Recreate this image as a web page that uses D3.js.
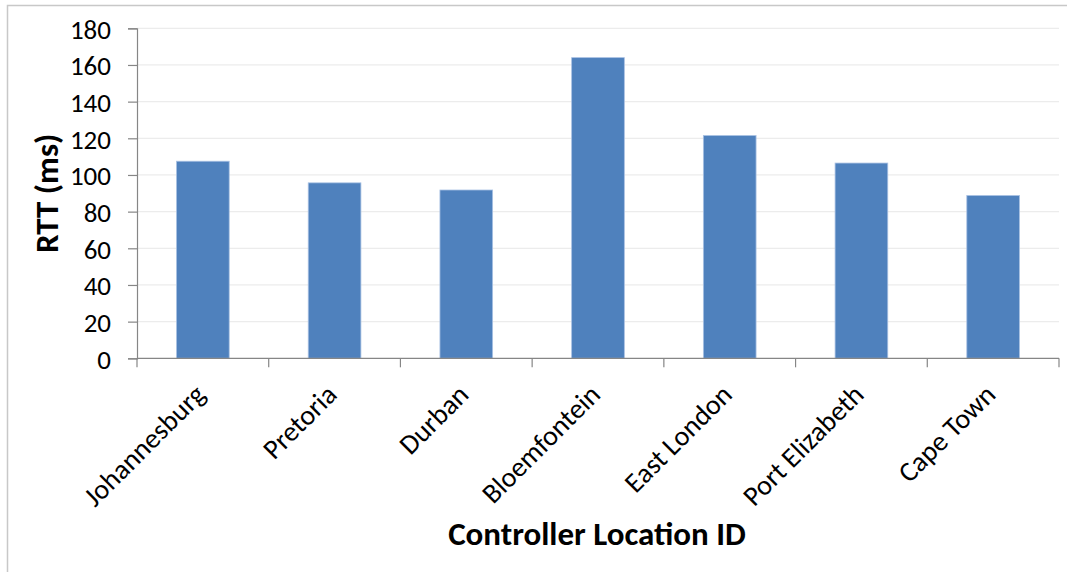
<!DOCTYPE html>
<html>
<head>
<meta charset="utf-8">
<script src="https://cdn.jsdelivr.net/npm/d3@7"></script>
<style>
  html, body { margin: 0; padding: 0; background: #fff; }
  svg { display: block; }
  text { font-family: Carlito, Calibri, Lato, "Open Sans", sans-serif; fill: #000; }
</style>
</head>
<body>
<svg id="chart" width="1067" height="572"></svg>
<script>
// Round-trip time measured from each controller location
const locations = ["Johannesburg", "Pretoria", "Durban", "Bloemfontein", "East London", "Port Elizabeth", "Cape Town"];
const rttMs = [107.5, 95.7, 91.8, 164, 121.5, 106.5, 88.8];
const yTicks = [0, 20, 40, 60, 80, 100, 120, 140, 160, 180];

const svg = d3.select("#chart");
const W = 1067, H = 572;
const plot = { left: 137, right: 1059, top: 28.3, bottom: 358.3 };

// chart area frame
svg.append("rect")
  .attr("x", 7.5).attr("y", 5.5)
  .attr("width", W + 20).attr("height", H + 20)
  .attr("fill", "#fff").attr("stroke", "#c8c8c8").attr("stroke-width", 1.5);

const x = d3.scaleBand().domain(locations).range([plot.left, plot.right]).padding(0);
const y = d3.scaleLinear().domain([0, 180]).range([plot.bottom, plot.top]);

// horizontal gridlines
svg.append("g")
  .selectAll("line")
  .data(yTicks.filter(d => d > 0))
  .join("line")
  .attr("x1", plot.left).attr("x2", plot.right)
  .attr("y1", d => y(d)).attr("y2", d => y(d))
  .attr("stroke", "#ececec").attr("stroke-width", 1.2);

// bars
const barFrac = 0.4;
svg.append("g")
  .selectAll("rect")
  .data(locations)
  .join("rect")
  .attr("x", d => x(d) + x.bandwidth() * (1 - barFrac) / 2)
  .attr("width", x.bandwidth() * barFrac)
  .attr("y", (d, i) => y(rttMs[i]))
  .attr("height", (d, i) => y(0) - y(rttMs[i]))
  .attr("fill", "#4f81bd")
  .attr("stroke", "#a9c1e3").attr("stroke-width", 0.8);

// y axis
const yAxis = svg.append("g")
  .attr("transform", `translate(${plot.left},0)`)
  .call(d3.axisLeft(y).tickValues(yTicks).tickSize(9).tickPadding(17));
yAxis.select(".domain").attr("stroke", "#868686").attr("stroke-width", 1.2);
yAxis.selectAll(".tick line").attr("stroke", "#868686").attr("stroke-width", 1.2);
yAxis.selectAll(".tick text")
  .style("font-size", "27px").attr("dy", "0.36em");

// x axis: ticks sit on category boundaries
const xAxisG = svg.append("g").attr("transform", `translate(0,${plot.bottom})`);
xAxisG.append("line")
  .attr("x1", plot.left).attr("x2", plot.right)
  .attr("stroke", "#868686").attr("stroke-width", 1.2);
const bounds = locations.map(d => x(d)).concat([x(locations[locations.length - 1]) + x.bandwidth()]);
xAxisG.selectAll("line.tk")
  .data(bounds)
  .join("line").attr("class", "tk")
  .attr("x1", d => d).attr("x2", d => d)
  .attr("y1", 0).attr("y2", 9)
  .attr("stroke", "#868686").attr("stroke-width", 1.2);
xAxisG.selectAll("text.lbl")
  .data(locations)
  .join("text").attr("class", "lbl")
  .attr("text-anchor", "end")
  .attr("transform", d => `translate(${x(d) + x.bandwidth() / 2 + 4},${38}) rotate(-45)`)
  .style("font-size", "28px")
  .text(d => d);

// axis titles
svg.append("text")
  .attr("transform", `translate(58,${(plot.top + plot.bottom) / 2}) rotate(-90)`)
  .attr("text-anchor", "middle")
  .style("font-size", "33px").style("font-weight", "bold")
  .text("RTT (ms)");

svg.append("text")
  .attr("x", 597).attr("y", 545)
  .attr("text-anchor", "middle")
  .style("font-size", "33px").style("font-weight", "bold")
  .text("Controller Location ID");
</script>
</body>
</html>
